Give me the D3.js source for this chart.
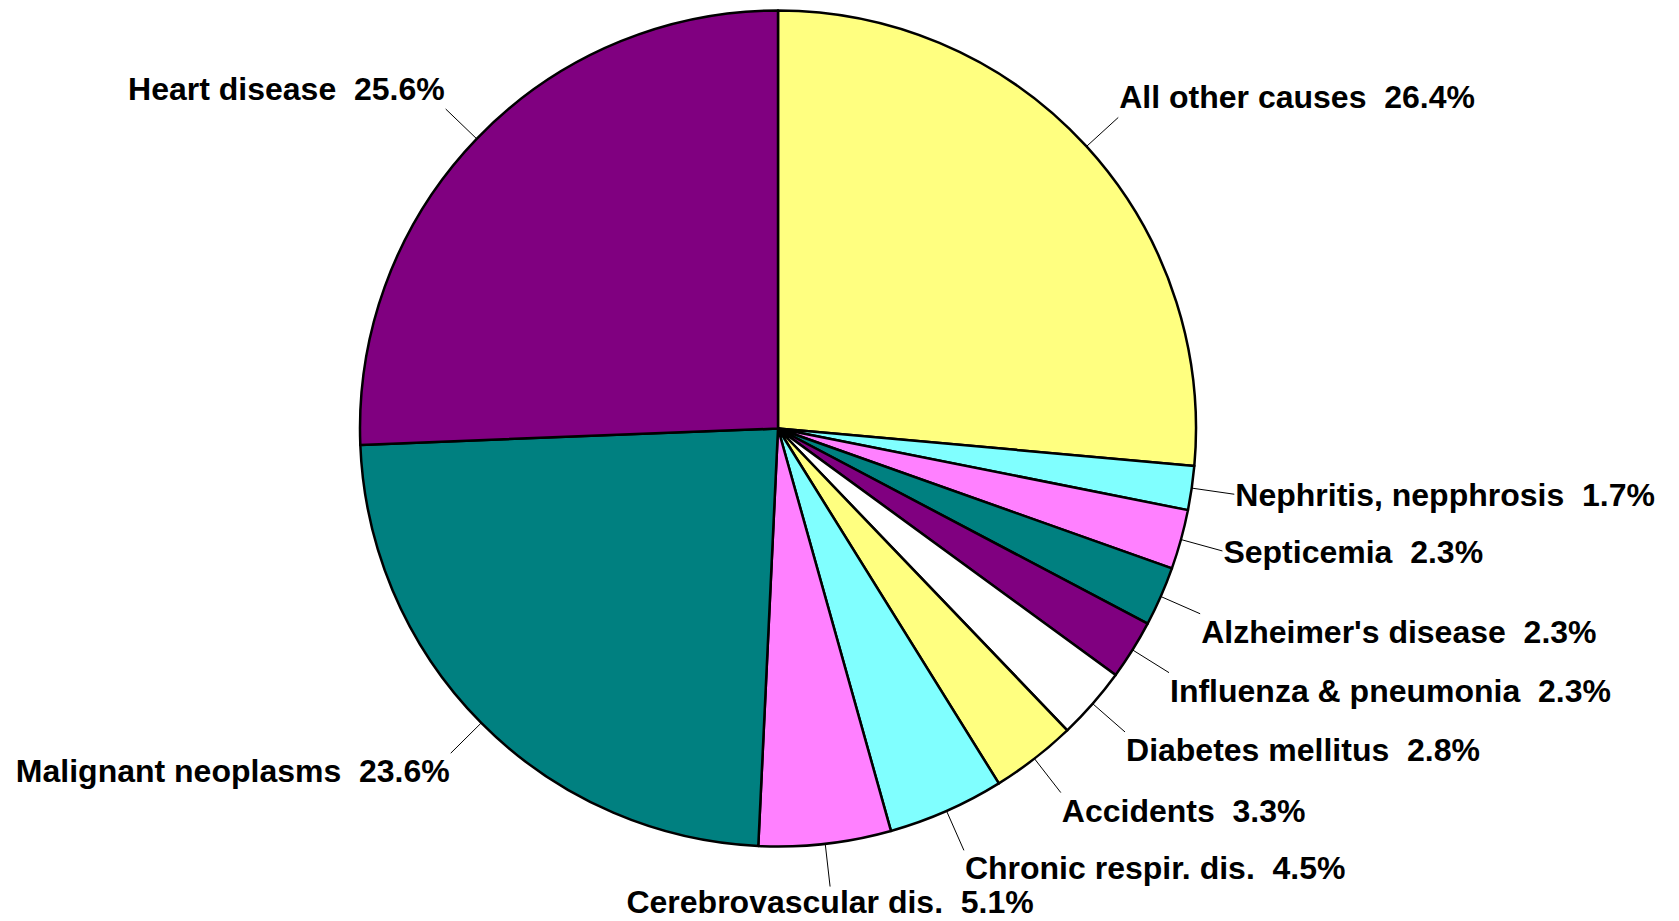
<!DOCTYPE html>
<html lang="en">
<head>
<meta charset="utf-8">
<title>Causes of death</title>
<script src="https://cdn.jsdelivr.net/npm/d3@7"></script>
<style>
body { margin: 0; background: #fff; }
svg { display: block; }
.lbl {
    font-family: "Liberation Sans", Arial, sans-serif;
    font-weight: bold;
    font-size: 32px;
    fill: #000;
    white-space: pre;
}
</style>
</head>
<body>
<script>
// slices clockwise from 12 o'clock
var causes = ["All other causes", "Nephritis, nepphrosis", "Septicemia", "Alzheimer's disease",
    "Influenza & pneumonia", "Diabetes mellitus", "Accidents", "Chronic respir. dis.",
    "Cerebrovascular dis.", "Malignant neoplasms", "Heart disease"];
var shares = [26.4, 1.7, 2.3, 2.3, 2.3, 2.8, 3.3, 4.5, 5.1, 23.6, 25.6];
var sliceColors = ["#ffff80", "#80ffff", "#ff80ff", "#008080", "#800080", "#ffffff",
    "#ffff80", "#80ffff", "#ff80ff", "#008080", "#800080"];

var width = 1679, height = 921;
var cx = 778, cy = 428.5, r = 418, leader = 43;

var data = causes.map(function(c, i) { return {name: c, value: shares[i], color: sliceColors[i]}; });

var svg = d3.select("body").append("svg")
    .attr("width", width)
    .attr("height", height);

var pie = d3.pie().sort(null).value(function(d) { return d.value; });
var arcs = pie(data);
var arc = d3.arc().innerRadius(0).outerRadius(r);

var g = svg.append("g").attr("transform", "translate(" + cx + "," + cy + ")");

g.selectAll("path.slice")
    .data(arcs)
    .enter()
    .append("path")
    .attr("class", "slice")
    .attr("d", arc)
    .attr("fill", function(d) { return d.data.color; })
    .attr("stroke", "#000")
    .attr("stroke-width", 2.5)
    .attr("stroke-linejoin", "round");

// leader lines + labels
arcs.forEach(function(d) {
    var a = (d.startAngle + d.endAngle) / 2;
    var s = Math.sin(a), c = -Math.cos(a); // c: screen y direction
    var x0 = r * s, y0 = r * c;
    var x1 = (r + leader) * s, y1 = (r + leader) * c;

    g.append("line")
        .attr("x1", x0).attr("y1", y0)
        .attr("x2", x1).attr("y2", y1)
        .attr("stroke", "#000")
        .attr("stroke-width", 1);

    var anchor = Math.abs(s) < 0.2 ? "middle" : (s > 0 ? "start" : "end");
    var dx = anchor == "start" ? 1 : (anchor == "end" ? -1 : 0);
    var dy;
    if (Math.abs(c) < 0.33) dy = 12;      // beside the line end
    else if (c < 0) dy = -9;              // above
    else dy = anchor == "middle" ? 26 : 29; // below

    g.append("text")
        .attr("class", "lbl")
        .attr("x", x1 + dx)
        .attr("y", y1 + dy)
        .attr("text-anchor", anchor)
        .text(d.data.name + "  " + d.data.value.toFixed(1) + "%");
});
</script>
</body>
</html>
